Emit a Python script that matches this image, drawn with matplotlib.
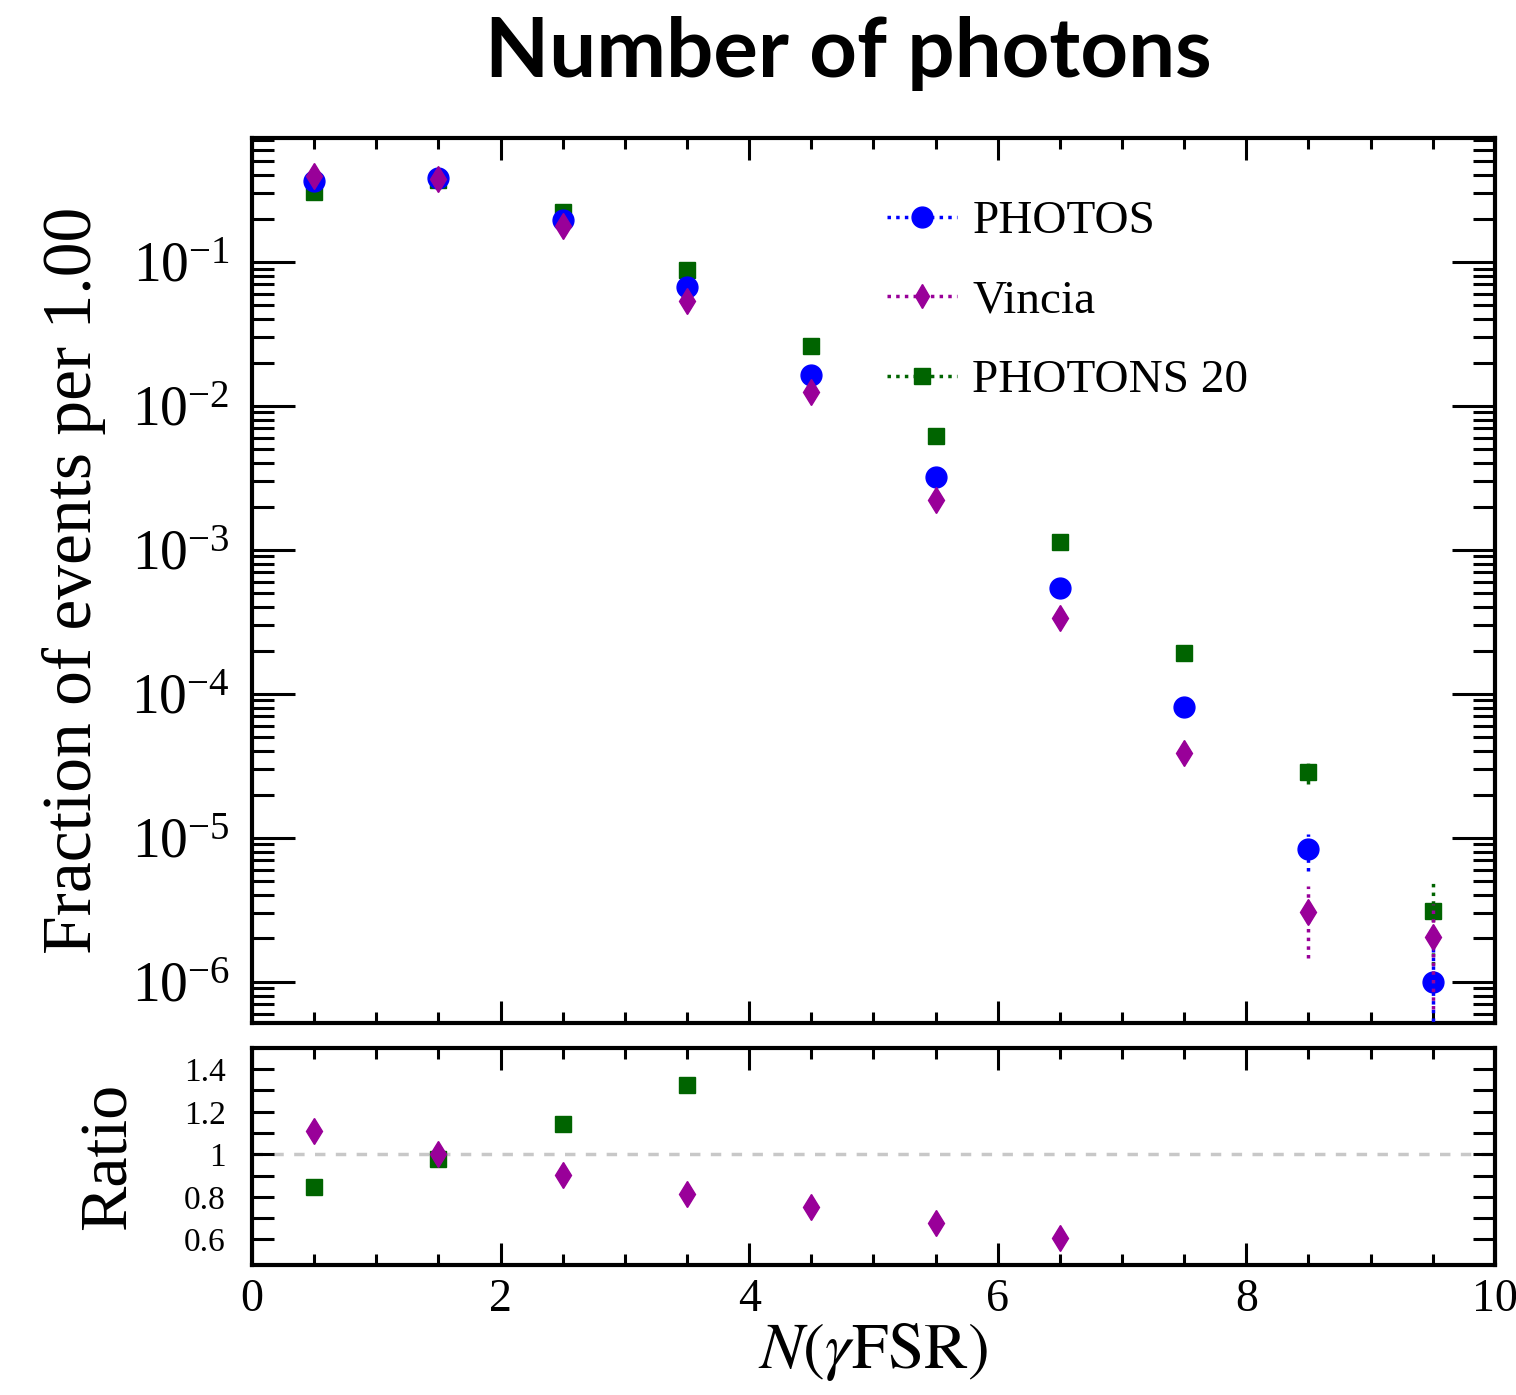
import matplotlib
matplotlib.use('Agg')
import matplotlib.pyplot as plt
from matplotlib.lines import Line2D
from matplotlib.ticker import FixedLocator, MultipleLocator, LogLocator, NullFormatter

plt.rcParams['font.family'] = 'Liberation Serif'
plt.rcParams['mathtext.fontset'] = 'stix'

# bin centres of the photon multiplicity histogram
n_gamma = [0.5, 1.5, 2.5, 3.5, 4.5, 5.5, 6.5, 7.5, 8.5, 9.5]

photos = [0.365, 0.383, 0.196, 0.067, 0.0164, 0.00321, 5.45e-4, 8.1e-5, 8.3e-6, 1.0e-6]
photos_err = [2e-3, 2e-3, 1.5e-3, 8e-4, 3e-4, 8e-5, 2e-5, 4e-6, 2.4e-6, 0.95e-6]

vincia = [0.396, 0.377, 0.178, 0.0536, 0.0125, 0.00222, 3.37e-4, 3.9e-5, 3.06e-6, 2.05e-6]
vincia_err = [2e-3, 2e-3, 1.5e-3, 7e-4, 2e-4, 6e-5, 1.5e-5, 3e-6, 1.6e-6, 1.4e-6]

photons = [0.306, 0.370, 0.222, 0.088, 0.026, 0.0062, 0.00114, 1.93e-4, 2.87e-5, 3.1e-6]
photons_err = [2e-3, 2e-3, 1.5e-3, 9e-4, 4e-4, 1.2e-4, 4e-5, 1e-5, 5e-6, 1.8e-6]

# ratios to PHOTOS
ratio_vincia = [1.108, 1.0, 0.903, 0.815, 0.751, 0.676, 0.605]
ratio_photons = [0.846, 0.977, 1.142, 1.328]

c_photos = '#0000ff'
c_vincia = '#990099'
c_photons = '#006400'
dotted = (0, (1, 1.5))

fig = plt.figure(figsize=(15.16, 13.95), dpi=100)
ax = fig.add_axes([0.1662, 0.2667, 0.8199, 0.6344])
rax = fig.add_axes([0.1662, 0.0932, 0.8199, 0.1556])


def draw(a, x, y, yerr, color, marker, ms, z):
    eb = a.errorbar(x, y, yerr=yerr, fmt=marker, color=color, ms=ms,
                    mec=color, elinewidth=2.5, capsize=0, zorder=z)
    eb[2][0].set_linestyle(dotted)
    return eb


draw(ax, n_gamma, photons, photons_err, c_photons, 's', 12, 3)
draw(ax, n_gamma, photos, photos_err, c_photos, 'o', 15, 4)
draw(ax, n_gamma, vincia, vincia_err, c_vincia, 'd', 13, 5)

ax.set_yscale('log')
ax.set_xlim(0, 10)
ax.set_ylim(5.18e-7, 0.726)

handles = [
    Line2D([], [], color=c_photos, ls=dotted, lw=2.5, marker='o', ms=15),
    Line2D([], [], color=c_vincia, ls=dotted, lw=2.5, marker='d', ms=12),
    Line2D([], [], color=c_photons, ls=dotted, lw=2.5, marker='s', ms=11),
]
ax.legend(handles, ['PHOTOS', 'Vincia', 'PHOTONS 20'], loc='upper left',
          bbox_to_anchor=(0.496, 0.951), frameon=False, fontsize=34,
          handlelength=1.48, handletextpad=0.32, labelspacing=0.77,
          borderaxespad=0)

ax.set_ylabel('Fraction of events per 1.00', fontsize=50, labelpad=18)

# ratio panel
rax.axhline(1.0, color='#c8c8c8', ls=(0, (3, 3)), lw=2.5, zorder=1)
rax.plot(n_gamma[:len(ratio_photons)], ratio_photons, 's', color=c_photons, ms=12, zorder=3)
rax.plot(n_gamma[:len(ratio_vincia)], ratio_vincia, 'd', color=c_vincia, ms=13, zorder=4)
rax.set_xlim(0, 10)
rax.set_ylim(0.48, 1.5)
rax.yaxis.set_major_locator(FixedLocator([0.6, 0.8, 1.0, 1.2, 1.4]))
rax.yaxis.set_minor_locator(FixedLocator([0.7, 0.9, 1.1, 1.3]))
rax.set_yticklabels(['0.6', '0.8', '1', '1.2', '1.4'])
rax.set_ylabel('Ratio', fontsize=49, labelpad=32)
rax.set_xlabel(r'$N(\gamma\mathrm{FSR})$', fontsize=47, labelpad=0)

for a in (ax, rax):
    a.xaxis.set_major_locator(MultipleLocator(2))
    a.xaxis.set_minor_locator(MultipleLocator(0.5))
    for s in a.spines.values():
        s.set_linewidth(3)
    a.tick_params(which='both', direction='in', top=True, right=True, width=2.2)
    a.tick_params(which='major', length=16)
    a.tick_params(which='minor', length=8)

ax.yaxis.set_major_locator(LogLocator(base=10, numticks=20))
ax.yaxis.set_minor_locator(LogLocator(base=10, subs=range(2, 10), numticks=20))
ax.yaxis.set_minor_formatter(NullFormatter())
ax.tick_params(axis='y', which='major', length=31)
ax.tick_params(axis='y', which='minor', length=16)
ax.tick_params(axis='x', labelbottom=False)
ax.tick_params(axis='y', labelsize=40, pad=16)

rax.tick_params(axis='y', which='both', length=16)
rax.tick_params(axis='y', labelsize=24, pad=19)
rax.tick_params(axis='x', labelsize=33, pad=10)

fig.text(0.5595, 0.962, 'Number of photons', ha='center', va='center',
         fontsize=60, fontweight='bold', family='Lato')

fig.savefig('out.png', dpi=100)
